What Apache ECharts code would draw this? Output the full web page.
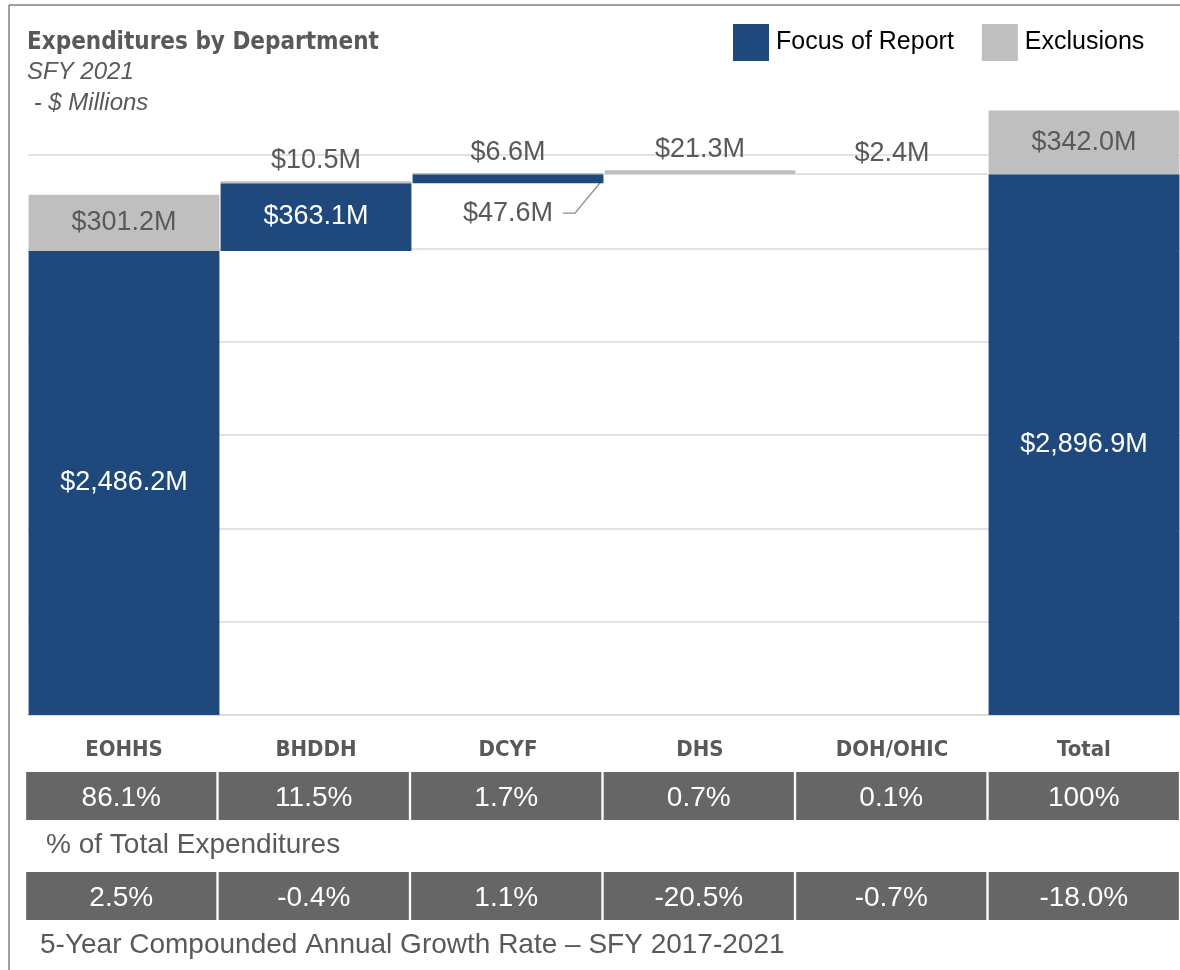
<!DOCTYPE html>
<html>
<head>
<meta charset="utf-8">
<script src="https://cdn.jsdelivr.net/npm/echarts@6/dist/echarts.min.js"></script>
<style>
  html, body { margin: 0; padding: 0; background: #fff; }
  #chart { width: 1180px; height: 970px; }
</style>
</head>
<body>
<div id="chart"></div>
<script>
const categories = ['EOHHS', 'BHDDH', 'DCYF', 'DHS', 'DOH/OHIC', 'Total'];
const focusValues = [2486.2, 363.1, 47.6, 0, 0, 2896.9];
const exclusionValues = [301.2, 10.5, 6.6, 21.3, 2.4, 342.0];
const pctOfTotal = ['86.1%', '11.5%', '1.7%', '0.7%', '0.1%', '100%'];
const cagr = ['2.5%', '-0.4%', '1.1%', '-20.5%', '-0.7%', '-18.0%'];

const BLUE = '#1f497d';
const LIGHT = '#bfbfbf';
const DARK_CELL = '#666666';
const TEXT = '#595959';
const SANS = '"Liberation Sans", Arial, sans-serif';
const NARROW = '"Liberation Sans Narrow", "DejaVu Sans Condensed", sans-serif';

// waterfall: each department starts where the previous focus amount ended
let running = 0;
const baseValues = focusValues.map((v, i) => {
  if (i === focusValues.length - 1) return 0;
  const b = running;
  running += v;
  return b;
});

const money = v => '$' + v.toLocaleString('en-US', {minimumFractionDigits: 1, maximumFractionDigits: 1}) + 'M';
const last = categories.length - 1;
const CALLOUT = 2;     // DCYF focus label sits below its thin bar
const CALLOUT_DROP = 30;

const chart = echarts.init(document.getElementById('chart'));

const cellSeries = (values, idx) => ({
  type: 'bar',
  xAxisIndex: idx,
  yAxisIndex: idx,
  silent: true,
  barCategoryGap: '1.2%',
  data: values.map(() => 1),
  itemStyle: {color: DARK_CELL},
  label: {
    show: true,
    position: 'inside',
    color: '#fff',
    fontFamily: SANS,
    fontSize: 28,
    offset: [0, 2],
    formatter: p => values[p.dataIndex]
  }
});

const rowTitle = (text, left, top) => ({
  text, left, top, padding: 0,
  textStyle: {fontFamily: SANS, fontWeight: 'normal', fontSize: 28, color: TEXT, lineHeight: 30}
});

chart.setOption({
  animation: false,
  title: [
    {
      text: 'Expenditures by Department',
      subtext: 'SFY 2021\n - $ Millions',
      left: 27, top: 29, padding: 0, itemGap: 0,
      textStyle: {fontFamily: NARROW, fontWeight: 'bold', fontSize: 24, color: TEXT, lineHeight: 28},
      subtextStyle: {fontFamily: SANS, fontStyle: 'italic', fontSize: 24, color: TEXT, lineHeight: 31}
    },
    rowTitle('% of Total Expenditures', 46, 830),
    rowTitle('5-Year Compounded Annual Growth Rate \u2013 SFY 2017-2021', 40, 930)
  ],
  legend: {
    data: ['Focus of Report', 'Exclusions'],
    left: 733, top: 24, padding: 0,
    icon: 'rect',
    itemWidth: 36, itemHeight: 37, itemGap: 28,
    selectedMode: false,
    textStyle: {fontFamily: SANS, fontSize: 25, color: '#000', padding: [2, 0, 0, 2]}
  },
  graphic: [
    {type: 'line', shape: {x1: 9, y1: 5, x2: 1180, y2: 5}, style: {stroke: '#808080', lineWidth: 1.5}, silent: true},
    {type: 'line', shape: {x1: 9, y1: 5, x2: 9, y2: 970}, style: {stroke: '#808080', lineWidth: 1.5}, silent: true}
  ],
  grid: [
    {left: 28, right: 0, top: 61.7, bottom: 255},
    {left: 25, right: 0, top: 772, height: 48},
    {left: 25, right: 0, top: 872, height: 48}
  ],
  xAxis: [
    {
      type: 'category', gridIndex: 0, data: categories,
      axisTick: {show: false},
      axisLine: {show: true, lineStyle: {color: '#d9d9d9', width: 1.5}},
      axisLabel: {margin: 24, fontFamily: NARROW, fontWeight: 'bold', fontSize: 22, color: TEXT}
    },
    {type: 'category', gridIndex: 1, data: categories, show: false},
    {type: 'category', gridIndex: 2, data: categories, show: false}
  ],
  yAxis: [
    {
      type: 'value', gridIndex: 0, min: 0, max: 3500, interval: 500,
      axisLabel: {show: false}, axisLine: {show: false}, axisTick: {show: false},
      splitLine: {show: true, showMaxLine: false, lineStyle: {color: '#d9d9d9', width: 1.5}}
    },
    {type: 'value', gridIndex: 1, min: 0, max: 1, show: false},
    {type: 'value', gridIndex: 2, min: 0, max: 1, show: false}
  ],
  series: [
    {
      name: 'base',
      type: 'bar', stack: 'w', silent: true,
      barCategoryGap: '0.6%',
      itemStyle: {color: 'rgba(0,0,0,0)'},
      data: baseValues
    },
    {
      name: 'Focus of Report',
      type: 'bar', stack: 'w',
      itemStyle: {color: BLUE},
      data: focusValues.map((v, i) => v === 0
        ? {value: v, label: {show: false}, itemStyle: {borderColor: '#e3e3e3', borderWidth: 1}}
        : (i === CALLOUT ? {value: v, label: {color: TEXT}} : v)),
      label: {
        show: true, position: 'inside', color: '#fff',
        fontFamily: SANS, fontSize: 27,
        formatter: p => money(p.value)
      },
      labelLayout: params => {
        if (params.dataIndex !== CALLOUT) return {};
        const r = params.rect;
        return {
          x: r.x + r.width / 2,
          y: r.y + r.height + CALLOUT_DROP,
          align: 'center',
          verticalAlign: 'middle'
        };
      }
    },
    {
      name: 'Exclusions',
      type: 'bar', stack: 'w',
      itemStyle: {color: LIGHT},
      data: exclusionValues.map((v, i) => (i === 0 || i === last)
        ? {value: v, label: {position: 'inside'}}
        : v),
      label: {
        show: true, position: 'top', distance: 7, color: TEXT,
        fontFamily: SANS, fontSize: 27,
        formatter: p => money(p.value)
      }
    },
    {
      // leader line from the DCYF callout label up to the bar's right end
      name: 'callout',
      type: 'custom',
      silent: true,
      data: [[CALLOUT, baseValues[CALLOUT], focusValues[CALLOUT]]],
      renderItem: (params, api) => {
        const cat = api.value(0);
        const lo = api.coord([cat, api.value(1)]);
        const hi = api.coord([cat, api.value(1) + api.value(2)]);
        const half = api.size([1, 0])[0] * 0.497;
        const y = lo[1] + CALLOUT_DROP;
        return {
          type: 'polyline',
          shape: {points: [[lo[0] + 55, y], [lo[0] + 67, y], [lo[0] + half, (lo[1] + hi[1]) / 2]]},
          style: {stroke: '#8c8c8c', lineWidth: 1.3, fill: null}
        };
      }
    },
    cellSeries(pctOfTotal, 1),
    cellSeries(cagr, 2)
  ]
});
</script>
</body>
</html>
